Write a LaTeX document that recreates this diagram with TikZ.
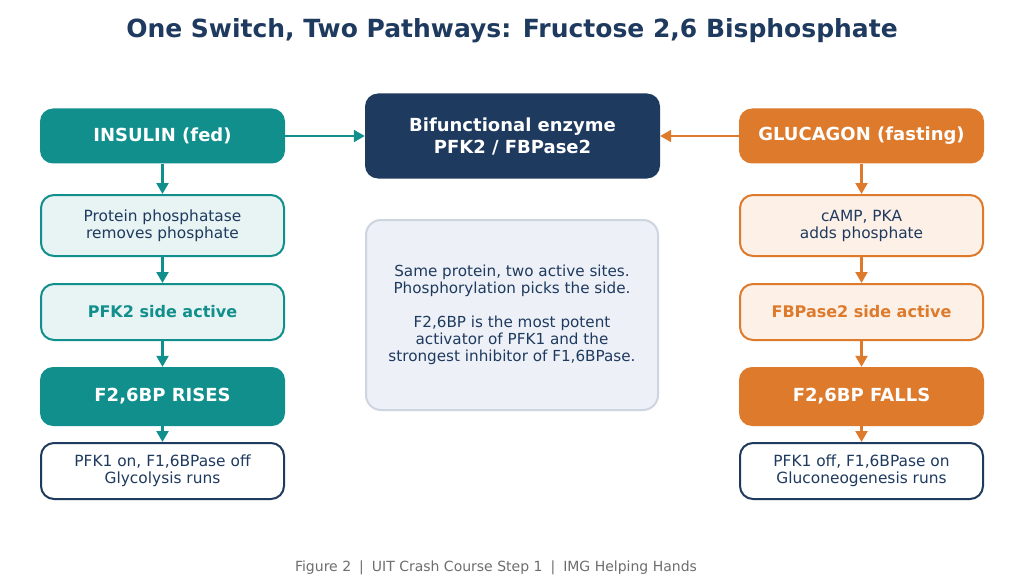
\documentclass[tikz,border=0pt]{standalone}
\usepackage{fontspec}
\setmainfont{DejaVu Sans}
\usetikzlibrary{arrows.meta}

\definecolor{tealc}{RGB}{16,143,140}
\definecolor{navyc}{RGB}{31,58,95}
\definecolor{orangec}{RGB}{221,122,44}
\definecolor{tealbg}{RGB}{231,244,243}
\definecolor{orangebg}{RGB}{253,240,230}
\definecolor{notebg}{RGB}{237,241,247}
\definecolor{noteline}{RGB}{205,213,224}
\definecolor{footc}{RGB}{110,110,110}

\begin{document}
\begin{tikzpicture}
          [x=1pt,y=-1pt,
           every node/.style={align=center,inner sep=0pt},
           hormone/.style={rounded corners=13pt,minimum width=245pt,minimum height=55pt,text=white,font=\bfseries\fontsize{18}{22}\selectfont},
           stepbox/.style={draw,line width=2pt,rounded corners=13pt,minimum width=243pt,minimum height=61pt,text=navyc,font=\fontsize{15.4}{17}\selectfont},
           activebox/.style={draw,line width=2pt,rounded corners=13pt,minimum width=243pt,minimum height=56pt,font=\bfseries\fontsize{16}{19}\selectfont},
           outbox/.style={draw=navyc,fill=white,line width=2pt,rounded corners=13pt,minimum width=243pt,minimum height=56pt,text=navyc,font=\fontsize{15.4}{17}\selectfont},
           flow/.style={line width=2.2pt,-{Triangle[width=12pt,length=11pt]}}]

          \useasboundingbox[fill=white] (0,0) rectangle (1024,588);

          \node[text=navyc,font=\bfseries\fontsize{25}{30}\selectfont] (title) at (512,31) {One Switch, Two Pathways: Fructose 2,6 Bisphosphate};

          \node[hormone,fill=tealc] (insulin) at (162.5,136) {INSULIN (fed)};
          \node[hormone,fill=navyc,minimum width=295pt,minimum height=85pt] (enzyme) at (512.5,136) {Bifunctional enzyme\\PFK2 / FBPase2};
          \node[hormone,fill=orangec] (glucagon) at (861.5,136) {GLUCAGON (fasting)};

          \node[stepbox,draw=tealc,fill=tealbg] (phosphatase) at (162.5,225.5) {Protein phosphatase\\removes phosphate};
          \node[activebox,draw=tealc,fill=tealbg,text=tealc] (pfk2) at (162.5,312) {PFK2 side active};
          \node[hormone,fill=tealc,minimum height=59pt] (rises) at (162.5,396.5) {F2,6BP RISES};
          \node[outbox] (glycolysis) at (162.5,471) {PFK1 on, F1,6BPase off\\Glycolysis runs};

          \node[stepbox,draw=orangec,fill=orangebg] (pka) at (861.5,225.5) {cAMP, PKA\\adds phosphate};
          \node[activebox,draw=orangec,fill=orangebg,text=orangec] (fbpase2) at (861.5,312) {FBPase2 side active};
          \node[hormone,fill=orangec,minimum height=59pt] (falls) at (861.5,396.5) {F2,6BP FALLS};
          \node[outbox] (gluconeo) at (861.5,471) {PFK1 off, F1,6BPase on\\Gluconeogenesis runs};

          \node[draw=noteline,fill=notebg,line width=2pt,rounded corners=15pt,minimum width=292pt,minimum height=190pt,text=navyc,font=\fontsize{15.2}{17}\selectfont] (note) at (512,315)
            {Same protein, two active sites.\\Phosphorylation picks the side.\\[17pt]F2,6BP is the most potent\\activator of PFK1 and the\\strongest inhibitor of F1,6BPase.};

          \node[text=footc,font=\fontsize{14}{16}\selectfont] (footer) at (496,568) {Figure 2\hspace{8pt}|\hspace{8pt}UIT Crash Course Step 1\hspace{8pt}|\hspace{8pt}IMG Helping Hands};

          \draw[flow,tealc] (insulin) -- (enzyme);
          \draw[flow,orangec] (glucagon) -- (enzyme);
          \draw[flow,tealc] (insulin) -- (phosphatase);
          \draw[flow,tealc] (phosphatase) -- (pfk2);
          \draw[flow,tealc] (pfk2) -- (rises);
          \draw[flow,tealc] (rises) -- (glycolysis);
          \draw[flow,orangec] (glucagon) -- (pka);
          \draw[flow,orangec] (pka) -- (fbpase2);
          \draw[flow,orangec] (fbpase2) -- (falls);
          \draw[flow,orangec] (falls) -- (gluconeo);
        \end{tikzpicture}
\end{document}
